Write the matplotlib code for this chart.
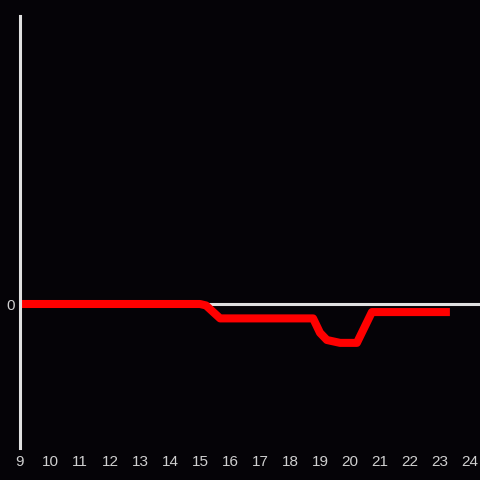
import matplotlib
matplotlib.use("Agg")
import matplotlib.pyplot as plt

# readings
hours = [9, 15, 15.2, 15.67, 18.77, 19.0, 19.23, 19.67, 20.23, 20.73, 23.33]
values = [0, 0, -0.1, -1.0, -1.0, -2.0, -2.5, -2.7, -2.7, -0.56, -0.56]
xticks = list(range(9, 25))

bg = "#050307"
fg = "#e0e0e0"

plt.rcParams['font.family'] = ['Liberation Sans', 'DejaVu Sans']

fig = plt.figure(figsize=(4.8, 4.8), dpi=100, facecolor=bg)
ax = fig.add_axes([20/480, 32/480, 460/480, 432/480], facecolor=bg)

ax.axhline(0, color=fg, lw=2.2, zorder=1)
ax.plot(hours, values, color="#ff0000", lw=5.8, solid_capstyle="butt",
        solid_joinstyle="round", zorder=2)

ax.set_xlim(9, 9 + 460/30)
ax.set_ylim(-10, 20)
ax.set_xticks(xticks)
ax.set_xticklabels([str(t) for t in xticks])
ax.set_yticks([0])
ax.set_yticklabels(["0"])
ax.tick_params(length=0, colors="#cfcfcf", labelsize=11)
ax.tick_params(axis="x", pad=5)
ax.tick_params(axis="y", pad=4)

for s in ["top", "right", "bottom"]:
    ax.spines[s].set_visible(False)
ax.spines["left"].set_color(fg)
ax.spines["left"].set_linewidth(2.2)

fig.savefig("out.png", dpi=100, facecolor=bg)
